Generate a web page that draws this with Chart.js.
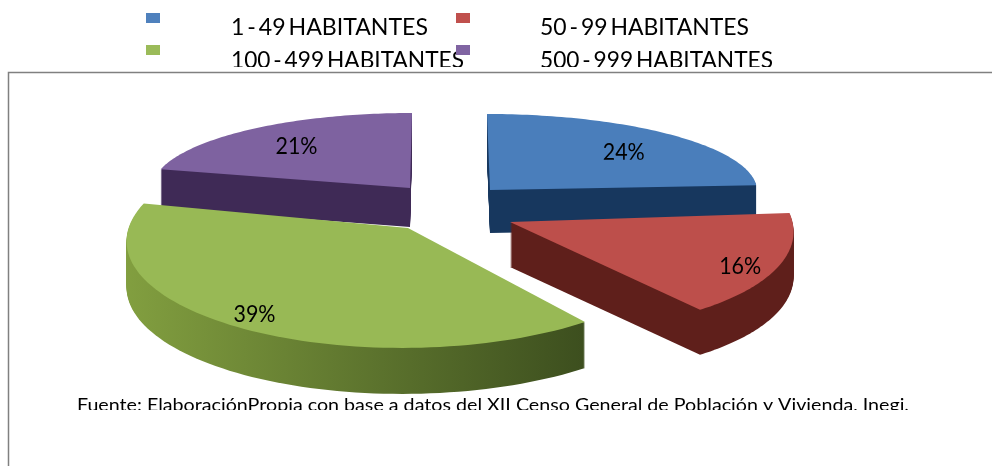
<!DOCTYPE html>
<html>
<head>
<meta charset="utf-8">
<style>
  html, body { margin: 0; padding: 0; background: #fff; }
  canvas { display: block; }
</style>
<script src="https://cdn.jsdelivr.net/npm/chart.js@4"></script>
</head>
<body>
<canvas id="chart" width="992" height="466"></canvas>
<script>
var categories = ['1 - 49 HABITANTES', '50 - 99 HABITANTES', '100 - 499 HABITANTES', '500 - 999 HABITANTES'];
var percentValues = [24, 16, 39, 21];
var sourceNote = 'Fuente: ElaboraciónPropia con base a datos del XII Censo General de Población y Vivienda, Inegi.';

// look of the tilted slices: apex on screen, u/v axes of the disc, wall depth, label place
var SLICE_LOOK = [
  { apex: [490, 190], u: [267, 0], v: [3, 76], k: 0, depth: 43, top: '#4a7ebb', wall: ['#17375e', '#17375e'], label: [0.74, 0.69], order: 1 },
  { apex: [510, 222], u: [282, -2], v: [30, 110], k: 0, depth: 45, top: '#bd4f4b', wall: ['#5f1f1b', '#5f1f1b'], label: [0.853, 0.98], order: 3 },
  { apex: [408, 228], u: [280, -2], v: [-1, 109], k: 0.1, depth: 46, top: '#98b955', wall: ['#83a040', '#3c4e1e'], label: [0.904, 0.885], order: 2 },
  { apex: [410, 188], u: [258, 0], v: [-2, 75], k: 0, depth: 39, top: '#7e62a0', wall: ['#3f2a56', '#3f2a56'], label: [0.725, 0.71], order: 0 }
];

var LEGEND_LOOK = [
  { box: [146, 13], text: [231, 35, 197], color: '#4f81bd' },
  { box: [456, 13], text: [540, 35, 209], color: '#c0504d' },
  { box: [146, 45], text: [231, 68, 233], color: '#9bbb59' },
  { box: [456, 45], text: [540, 68, 233], color: '#8064a2' }
];

function project(look, u, v) {
  var f = 1 + look.k * v;
  return [
    look.apex[0] + (look.u[0] * u + look.v[0] * v) * f,
    look.apex[1] + (look.u[1] * u + look.v[1] * v) * f
  ];
}

function traceSlice(ctx, arc, look, dy) {
  ctx.beginPath();
  ctx.moveTo(look.apex[0], look.apex[1] + dy);
  var steps = 80;
  for (var i = 0; i <= steps; i++) {
    var a = arc.startAngle + (arc.endAngle - arc.startAngle) * i / steps;
    var p = project(look, Math.cos(a), Math.sin(a));
    ctx.lineTo(p[0], p[1] + dy);
  }
  ctx.closePath();
}

// text squeezed to the width it has in the picture
function fitText(ctx, text, x, y, width) {
  ctx.save();
  ctx.translate(x, y);
  ctx.scale(width / ctx.measureText(text).width, 1);
  ctx.textAlign = 'left';
  ctx.fillText(text, 0, 0);
  ctx.restore();
}

var tiltedPie = {
  id: 'tiltedPie',
  beforeDatasetDraw: function (chart) {
    var ctx = chart.ctx;
    var arcs = chart.getDatasetMeta(0).data;
    var order = arcs.map(function (arc, i) { return i; }).sort(function (a, b) {
      return SLICE_LOOK[a].order - SLICE_LOOK[b].order;
    });

    order.forEach(function (i) {
      var look = SLICE_LOOK[i];
      var grad = ctx.createLinearGradient(look.apex[0] - 290, 0, look.apex[0] + 180, 0);
      grad.addColorStop(0, look.wall[0]);
      grad.addColorStop(1, look.wall[1]);
      ctx.fillStyle = grad;
      for (var d = look.depth; d > 0; d--) {
        traceSlice(ctx, arcs[i], look, d);
        ctx.fill();
      }
      traceSlice(ctx, arcs[i], look, 0);
      ctx.fillStyle = look.top;
      ctx.fill();
    });
    return false;
  },
  afterDraw: function (chart) {
    var ctx = chart.ctx;
    var arcs = chart.getDatasetMeta(0).data;
    ctx.save();

    // frame
    ctx.strokeStyle = '#808080';
    ctx.lineWidth = 1.5;
    ctx.beginPath();
    ctx.moveTo(8.5, 466);
    ctx.lineTo(8.5, 72.5);
    ctx.lineTo(992, 72.5);
    ctx.stroke();

    // legend, second row cut by the frame
    ctx.textBaseline = 'alphabetic';
    LEGEND_LOOK.forEach(function (item, i) {
      ctx.save();
      ctx.beginPath();
      ctx.rect(0, 0, 992, 67);
      ctx.clip();
      ctx.fillStyle = '#000';
      ctx.font = '23px Lato';
      ctx.wordSpacing = '-3px';
      fitText(ctx, categories[i], item.text[0], item.text[1], item.text[2]);
      ctx.restore();
      ctx.fillStyle = item.color;
      ctx.fillRect(item.box[0], item.box[1], 14, 10);
    });

    // value labels, their feet are cut off in the picture
    ctx.fillStyle = '#000';
    ctx.font = '24px Lato';
    arcs.forEach(function (arc, i) {
      var look = SLICE_LOOK[i];
      var mid = (arc.startAngle + arc.endAngle) / 2;
      var p = project(look, Math.cos(mid) * look.label[0], Math.sin(mid) * look.label[1]);
      var text = percentValues[i] + '%';
      ctx.save();
      ctx.beginPath();
      ctx.rect(p[0] - 40, p[1] - 20, 80, 28);
      ctx.clip();
      ctx.textBaseline = 'middle';
      fitText(ctx, text, p[0] - 21, p[1], 42);
      ctx.restore();
    });

    // source note, bottom cut off
    ctx.beginPath();
    ctx.rect(0, 380, 992, 30);
    ctx.clip();
    ctx.textBaseline = 'alphabetic';
    ctx.font = '18px Lato';
    fitText(ctx, sourceNote, 77, 411, 832);
    ctx.restore();
  }
};

new Chart(document.getElementById('chart').getContext('2d'), {
  type: 'pie',
  data: {
    labels: categories,
    datasets: [{ data: percentValues, backgroundColor: ['#4f81bd', '#c0504d', '#9bbb59', '#8064a2'] }]
  },
  options: {
    responsive: false,
    animation: false,
    plugins: { legend: { display: false }, tooltip: { enabled: false } }
  },
  plugins: [tiltedPie]
});
</script>
</body>
</html>
